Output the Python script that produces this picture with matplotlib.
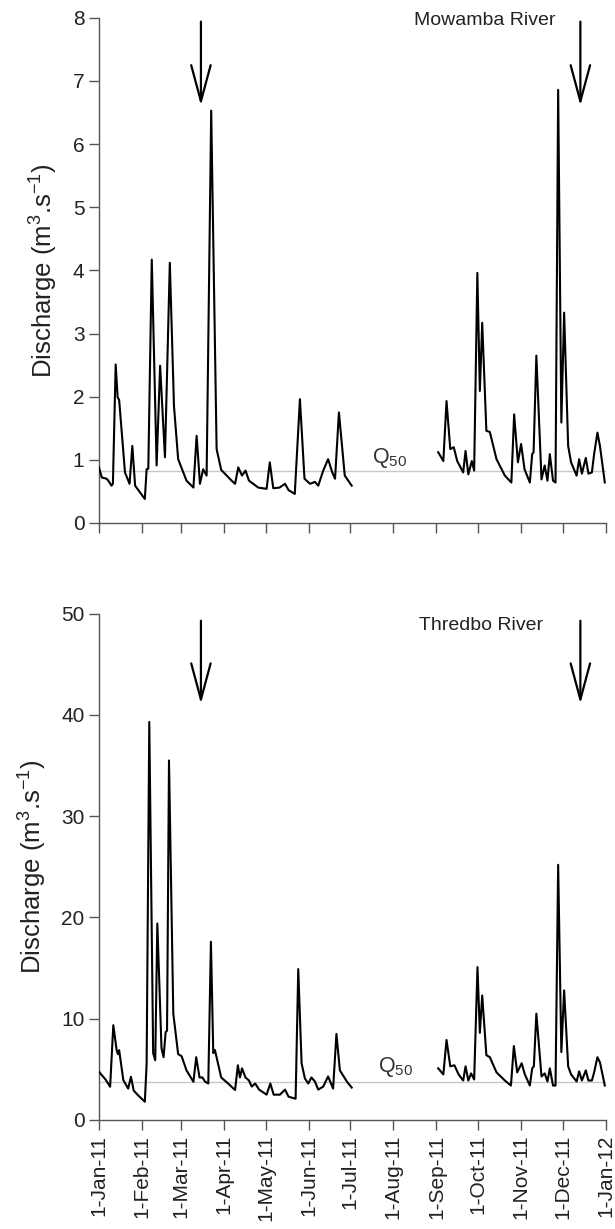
import numpy as np
import pandas as pd
import matplotlib
matplotlib.use("Agg")
import matplotlib.pyplot as plt
import matplotlib.dates as mdates

plt.rcParams['font.family'] = ['Liberation Sans', 'DejaVu Sans']
plt.rcParams['mathtext.default'] = 'regular'

# ---- data (day offset from 1-Jan-2011, discharge m3/s); NaN marks the data gap ----
mow_days = [0, 2, 5.5, 7, 9, 10, 12, 13.4, 14.5, 18.7, 22, 24, 26, 33, 34.3, 35.5, 38, 41.5, 44,
            47.5, 51, 54, 57, 63, 68, 70.3, 72.7, 75, 77.5, 80.8, 84.7, 88, 95.5, 98, 100.3, 103,
            105.5, 108, 114.7, 120.7, 123, 125.5, 130, 134, 136.5, 141, 144.7, 148, 152, 155.5,
            157.9, 161.5, 165, 168, 170, 172.8, 177, 182,
            212,
            244.3, 248, 250.3, 253, 255.5, 258, 262.3, 264, 266, 268.5, 270.2, 272.5, 274.3, 276,
            279, 281.5, 286.3, 292.3, 297, 299, 301.7, 304, 306.5, 310.3, 312, 313, 315, 318.7,
            321, 323, 324.7, 327, 328.8, 330.7, 333, 335, 337.9, 340, 344, 345.8, 347.8, 350.6,
            352.5, 355, 356.6, 359, 360.8, 364.3]
mow_vals = [0.88, 0.72, 0.70, 0.66, 0.59, 0.62, 2.51, 1.99, 1.95, 0.80, 0.62, 1.22, 0.59, 0.38, 0.85,
            0.86, 4.17, 0.91, 2.49, 1.04, 4.12, 1.85, 1.01, 0.67, 0.56, 1.38, 0.62, 0.85, 0.75, 6.53,
            1.17, 0.84, 0.67, 0.62, 0.88, 0.75, 0.83, 0.67, 0.56, 0.54, 0.96, 0.55, 0.56, 0.62, 0.52,
            0.46, 1.96, 0.70, 0.62, 0.65, 0.59, 0.83, 1.01, 0.80, 0.70, 1.75, 0.75, 0.59,
            np.nan,
            1.12, 0.98, 1.93, 1.17, 1.20, 0.98, 0.80, 1.14, 0.77, 0.98, 0.83, 3.96, 2.09, 3.17,
            1.46, 1.44, 1.01, 0.75, 0.64, 1.72, 0.96, 1.25, 0.85, 0.64, 1.09, 1.12, 2.65, 0.69,
            0.91, 0.67, 1.09, 0.67, 0.64, 6.86, 1.59, 3.33, 1.22, 0.96, 0.75, 1.01, 0.78, 1.03,
            0.78, 0.80, 1.09, 1.43, 1.22, 0.64]

thr_days = [0, 5, 8, 10.3, 12.7, 13.6, 14.5, 17.5, 21, 23, 25, 28, 33, 34.3, 36.2, 39, 40.5, 42, 45,
            46.5, 48, 49, 50.4, 53.5, 57, 59.5, 63, 68, 70, 72.4, 74.5, 76.3, 78.7, 80.6, 82.3,
            83.5, 88, 93, 98, 100, 101.5, 103, 105.5, 108, 110, 112.5, 115.3, 120.7, 123.4, 125.8,
            130.3, 134, 136.5, 141.6, 143.5, 145.9, 148.3, 150.7, 153, 155.5, 157.9, 161.5, 165,
            168.6, 171, 173.5, 178.5, 182,
            212,
            244.3, 248, 250.3, 253, 256, 259, 262.3, 264, 266, 268, 270.2, 272.6, 274.3, 276, 279,
            281.5, 286.3, 292.3, 296.7, 298.8, 301.2, 304.4, 306.7, 310.3, 312, 313.2, 315, 318.7,
            321, 323, 324.7, 327, 328.8, 330.7, 333, 335, 337.9, 340, 344, 345.8, 347.8, 350.6,
            352.5, 355, 356.6, 359, 360.8, 364.3]
thr_vals = [4.76, 3.94, 3.28, 9.36, 6.9, 6.5, 6.9, 3.94, 3.1, 4.27, 2.9, 2.46, 1.8, 5.58, 39.3, 6.6,
            5.9, 19.4, 7.1, 6.2, 8.7, 8.8, 35.5, 10.5, 6.5, 6.3, 4.9, 3.77, 6.2, 4.2, 4.2, 3.8, 3.6,
            17.6, 6.6, 6.9, 4.2, 3.6, 2.96, 5.4, 4.2, 5.1, 4.2, 3.9, 3.3, 3.6, 3.0, 2.5, 3.6, 2.5,
            2.5, 3.0, 2.3, 2.1, 14.9, 5.6, 4.1, 3.6, 4.2, 3.8, 3.0, 3.3, 4.3, 3.1, 8.5, 4.9, 3.8, 3.2,
            np.nan,
            5.1, 4.5, 7.9, 5.3, 5.4, 4.5, 3.9, 5.3, 3.9, 4.6, 4.0, 15.1, 8.6, 12.3, 6.4, 6.2, 4.7,
            3.9, 3.4, 7.3, 4.7, 5.6, 4.5, 3.4, 5.1, 5.3, 10.5, 4.3, 4.6, 3.8, 5.1, 3.4, 3.4, 25.2,
            6.7, 12.8, 5.3, 4.5, 3.8, 4.8, 3.9, 4.9, 3.9, 3.9, 4.7, 6.2, 5.7, 3.4]

q50 = {'Mowamba River': 0.83, 'Thredbo River': 3.77}
arrow_days = [73.4, 346.7]
tick_labels = ['1-Jan-11', '1-Feb-11', '1-Mar-11', '1-Apr-11', '1-May-11', '1-Jun-11', '1-Jul-11',
               '1-Aug-11', '1-Sep-11', '1-Oct-11', '1-Nov-11', '1-Dec-11', '1-Jan-12']

start = pd.Timestamp('2011-01-01')
def to_dates(days):
    return start + pd.to_timedelta(np.array(days), unit='D')

tick_dates = [pd.Timestamp(f'{y}-{m:02d}-01') for y, m in
              [(2011, m) for m in range(1, 13)] + [(2012, 1)]]

fig = plt.figure(figsize=(6.15, 12.29), dpi=100)
ax1 = fig.add_axes([0.161, 0.5745, 0.824, 0.411])
ax2 = fig.add_axes([0.161, 0.0887, 0.824, 0.412])

spine_col = '#555555'
panels = [
    (ax1, mow_days, mow_vals, 'Mowamba River', (0, 8), np.arange(0, 9, 1),
     (7.94, 6.61), (196.3, 0.95), (277.9, 7.95)),
    (ax2, thr_days, thr_vals, 'Thredbo River', (0, 50), np.arange(0, 51, 10),
     (49.3, 41.1), (201.0, 4.77), (275.4, 48.8)),
]
for ax, d, v, name, ylim, yt, arr, qpos, tpos in panels:
    dates = to_dates(d)
    ax.axhline(q50[name], color='#c8c8c8', lw=1.0, zorder=1)
    ax.plot(dates, v, color='black', lw=1.5, zorder=3)
    ax.set_xlim(tick_dates[0], tick_dates[-1])
    ax.set_ylim(*ylim)
    ax.set_yticks(yt)
    ax.set_xticks(tick_dates)
    for s in ['top', 'right']:
        ax.spines[s].set_visible(False)
    for s in ['left', 'bottom']:
        ax.spines[s].set_color(spine_col)
        ax.spines[s].set_linewidth(1.0)
    ax.tick_params(axis='both', direction='out', length=7, width=1.0, color=spine_col,
                   labelsize=15, labelcolor='#222222')
    ax.set_ylabel('Discharge (m$^{3}$.s$^{-1}$)', fontsize=18.5, color='#222222', labelpad=9)
    for ad in arrow_days:
        x = start + pd.Timedelta(days=ad)
        ax.annotate('', xy=(x, arr[1]), xytext=(x, arr[0]),
                    arrowprops=dict(arrowstyle='->,head_length=2.6,head_width=0.7',
                                    color='black', lw=1.6, shrinkA=0, shrinkB=0,
                                    mutation_scale=10))
    ax.text(start + pd.Timedelta(days=qpos[0]), qpos[1], 'Q$_{50}$', fontsize=15.5,
            color='#333333', ha='left', va='baseline')
    ax.text(start + pd.Timedelta(days=tpos[0]), tpos[1], name, fontsize=14,
            color='#222222', ha='center', va='center')

ax1.set_xticklabels([])
ax2.set_xticklabels(tick_labels, rotation=90, ha='center', va='top')

fig.savefig('out.png', dpi=100)
